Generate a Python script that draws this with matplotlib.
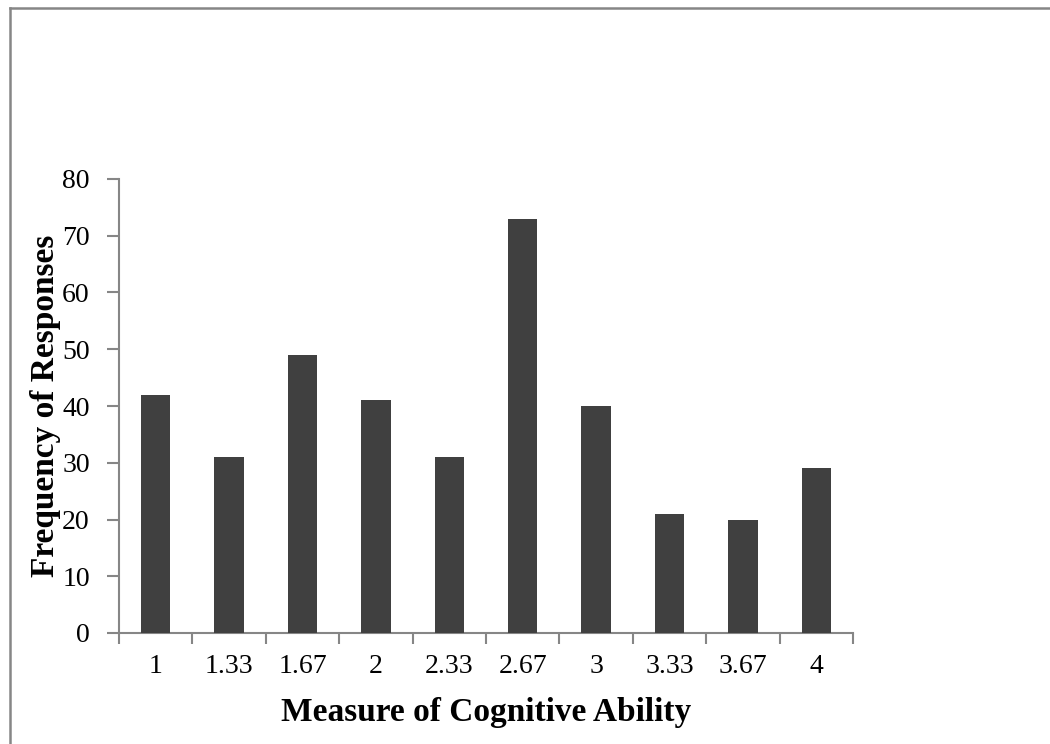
import matplotlib
matplotlib.use("Agg")
import matplotlib.pyplot as plt
from matplotlib.lines import Line2D
import numpy as np

categories = ["1", "1.33", "1.67", "2", "2.33", "2.67", "3", "3.33", "3.67", "4"]
values = [42, 31, 49, 41, 31, 73, 40, 21, 20, 29]
yticks = [0, 10, 20, 30, 40, 50, 60, 70, 80]

plt.rcParams['font.family'] = ['Liberation Serif', 'DejaVu Serif']

fig = plt.figure(figsize=(10.5, 7.44), dpi=100)
ax = fig.add_axes([119/1050, 1-633/744, (853-119)/1050, (633-179)/744])

x = np.arange(len(categories))
ax.bar(x, values, width=0.4, color="#404040", zorder=3)

ax.set_xlim(-0.5, len(categories) - 0.5)
ax.set_ylim(0, 80)
ax.set_yticks(yticks)
ax.set_yticklabels([str(v) for v in yticks])

ax.set_xticks(np.arange(-0.5, len(categories), 1.0))
ax.set_xticklabels([])
ax.set_xticks(x, minor=True)
ax.set_xticklabels(categories, minor=True)
ax.tick_params(axis='x', which='minor', length=0, pad=15, labelsize=20)
ax.tick_params(axis='x', which='major', length=8, width=1.5, color="#868686", direction='out')
ax.tick_params(axis='y', length=9, width=1.5, color="#868686", direction='out', labelsize=20, pad=12)

for s in ['top', 'right']:
    ax.spines[s].set_visible(False)
for s in ['left', 'bottom']:
    ax.spines[s].set_color("#868686")
    ax.spines[s].set_linewidth(1.5)

ax.set_xlabel("Measure of Cognitive Ability", fontsize=24, fontweight='bold', labelpad=13)
ax.set_ylabel("Frequency of Responses", fontsize=24, fontweight='bold', labelpad=1)

# outer border
fig.add_artist(Line2D([9.5/1050, 9.5/1050], [0, 1-7.5/744], transform=fig.transFigure, color="#868686", lw=1.8))
fig.add_artist(Line2D([9.5/1050, 1], [1-7.5/744, 1-7.5/744], transform=fig.transFigure, color="#868686", lw=1.8))

fig.savefig("out.png", dpi=100)
